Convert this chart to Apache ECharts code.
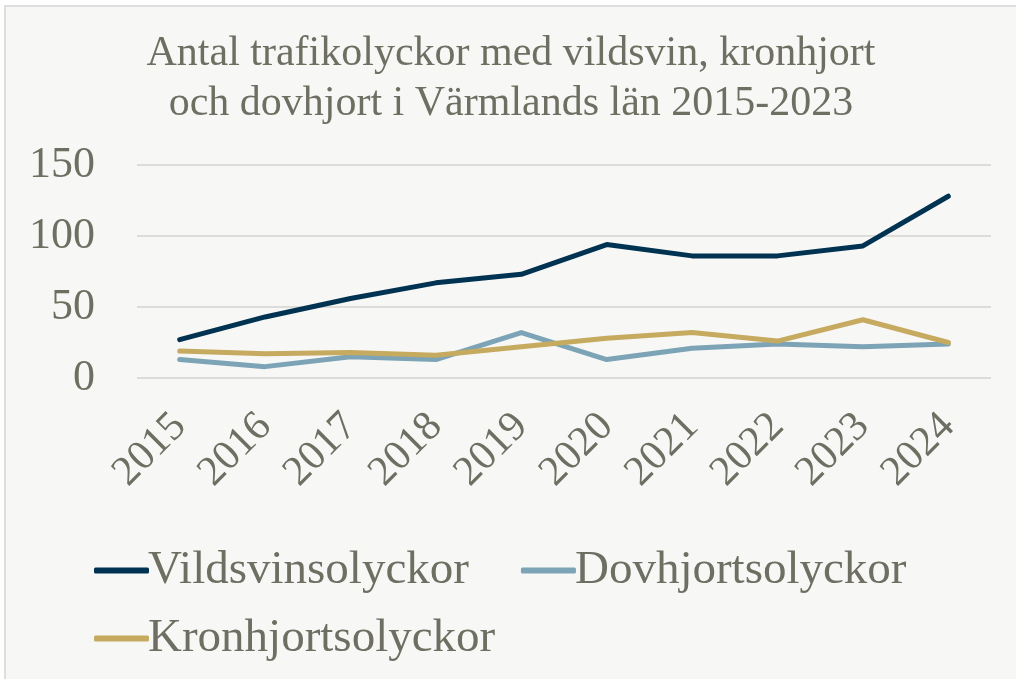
<!DOCTYPE html>
<html>
<head>
<meta charset="utf-8">
<script src="https://cdn.jsdelivr.net/npm/echarts@6/dist/echarts.min.js"></script>
<style>
  html, body { margin: 0; padding: 0; background: #ffffff; }
  #chart {
    position: absolute; left: 4px; top: 5px;
    width: 1010px; height: 672px;
    border-top: 2px solid #dedede; border-left: 2px solid #dedede;
    background: #f7f7f5;
  }
</style>
</head>
<body>
<div id="chart"></div>
<script>
// år på x-axeln
const years = ['2015', '2016', '2017', '2018', '2019', '2020', '2021', '2022', '2023', '2024'];
// antal olyckor per art
const vildsvin = [27, 43, 56, 67, 73, 94, 86, 86, 93, 128];
const dovhjort = [13, 8, 15, 13, 32, 13, 21, 24, 22, 24];
const kronhjort = [19, 17, 18, 16, 22, 28, 32, 26, 41, 25];
const yTicks = [0, 50, 100, 150];

const textColor = '#6e6f62';
const font = 'Liberation Serif';

function lineSeries(name, data, color) {
  return {
    name: name,
    type: 'line',
    data: data,
    symbol: 'none',
    lineStyle: { color: color, width: 5, cap: 'round', join: 'round' },
    itemStyle: { color: color }
  };
}

const legendBase = {
  icon: 'roundRect',
  itemWidth: 55, itemHeight: 6, itemGap: 52,
  textStyle: { color: textColor, fontFamily: font, fontSize: 47, padding: [0, 0, 0, -6] }
};

const myChart = echarts.init(document.getElementById('chart'));
const option = {
  backgroundColor: '#f7f7f5',
  animation: false,
  title: {
    text: 'Antal trafikolyckor med vildsvin, kronhjort\noch dovhjort i Värmlands län 2015-2023',
    left: 'center',
    top: 17,
    textStyle: { color: textColor, fontFamily: font, fontWeight: 'normal', fontSize: 42, lineHeight: 50 }
  },
  grid: { left: 131, right: 25, top: 158, bottom: 301 },
  legend: [
    Object.assign({ left: 83, top: 535, data: ['Vildsvinsolyckor', 'Dovhjortsolyckor'] }, legendBase),
    Object.assign({ left: 83, top: 603, data: ['Kronhjortsolyckor'] }, legendBase)
  ],
  xAxis: {
    type: 'category',
    boundaryGap: true,
    data: years,
    axisLine: { show: false },
    axisTick: { show: false },
    axisLabel: { rotate: 45, margin: 42, color: textColor, fontFamily: font, fontSize: 42 }
  },
  yAxis: {
    type: 'value',
    min: yTicks[0], max: yTicks[yTicks.length - 1], interval: 50,
    axisLine: { show: false },
    axisTick: { show: false },
    axisLabel: { margin: 42, color: textColor, fontFamily: font, fontSize: 44 },
    splitLine: { lineStyle: { color: '#dcdcd8', width: 2 } }
  },
  series: [
    lineSeries('Vildsvinsolyckor', vildsvin, '#003352'),
    lineSeries('Dovhjortsolyckor', dovhjort, '#7ca4b6'),
    lineSeries('Kronhjortsolyckor', kronhjort, '#c5aa5f')
  ]
};
myChart.setOption(option);
</script>
</body>
</html>
